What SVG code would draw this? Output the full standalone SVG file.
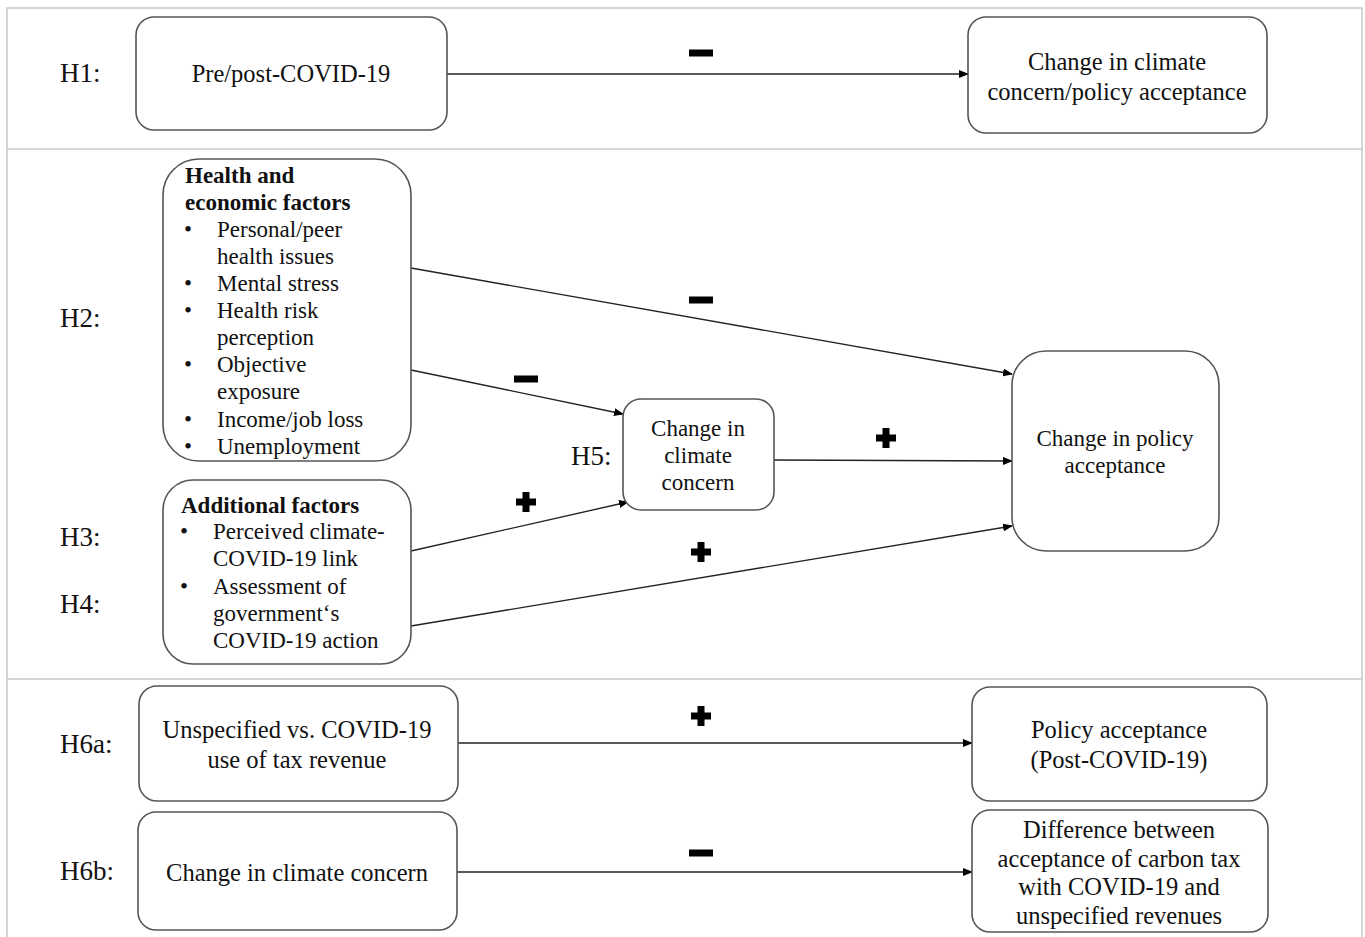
<svg xmlns="http://www.w3.org/2000/svg" width="1365" height="937" viewBox="0 0 1365 937">
<style>
.frame{fill:none;stroke:#c8c8c8;stroke-width:1.5}
.box{fill:#fff;stroke:#555;stroke-width:1.6}
.t{font-family:"Liberation Serif","Times New Roman",serif;font-size:23px;fill:#111}
.L{font-size:24.5px}
.c{text-anchor:middle}
.b{font-weight:bold}
.h{font-family:"Liberation Serif","Times New Roman",serif;font-size:27px;fill:#111}
.arr{fill:none;stroke:#222;stroke-width:1.4;marker-end:url(#ah)}
.sym{fill:#000}
</style>
<defs>
<marker id="ah" markerWidth="10" markerHeight="8" refX="9" refY="4" orient="auto" markerUnits="userSpaceOnUse">
<path d="M0,0 L10,4 L0,8 Z" fill="#000"/>
</marker>
<path id="plus" d="M-3.5,-10 H3.5 V-3.5 H10 V3.5 H3.5 V10 H-3.5 V3.5 H-10 V-3.5 H-3.5 Z"/>
<rect id="minus" x="-12" y="-3.5" width="24" height="7"/>
</defs>
<rect width="1365" height="937" fill="#fff"/>
<g id="frame">
<rect class="frame" x="7" y="8" width="1355" height="935"/>
<line class="frame" x1="7" y1="149" x2="1362" y2="149"/>
<line class="frame" x1="7" y1="679" x2="1362" y2="679"/>
</g>
<g id="labels">
<text class="h" x="60" y="82">H1:</text>
<text class="h" x="60" y="327">H2:</text>
<text class="h" x="60" y="546">H3:</text>
<text class="h" x="60" y="613">H4:</text>
<text class="h" x="571" y="465">H5:</text>
<text class="h" x="60" y="753">H6a:</text>
<text class="h" x="60" y="880">H6b:</text>
</g>
<g id="connectors">
<line class="arr" x1="447" y1="74" x2="968" y2="74"/>
<line class="arr" x1="411" y1="268" x2="1012" y2="374"/>
<line class="arr" x1="411" y1="370" x2="623" y2="414"/>
<line class="arr" x1="411" y1="551" x2="628" y2="502"/>
<line class="arr" x1="411" y1="626" x2="1012" y2="526"/>
<line class="arr" x1="774" y1="460" x2="1012" y2="461"/>
<line class="arr" x1="458" y1="743" x2="972" y2="743"/>
<line class="arr" x1="457" y1="872" x2="972" y2="872"/>
<use href="#minus" class="sym" x="701" y="53"/>
<use href="#minus" class="sym" x="701" y="300"/>
<use href="#minus" class="sym" x="526" y="379"/>
<use href="#plus" class="sym" x="526" y="502"/>
<use href="#plus" class="sym" x="701" y="552"/>
<use href="#plus" class="sym" x="886" y="438"/>
<use href="#plus" class="sym" x="701" y="716"/>
<use href="#minus" class="sym" x="701" y="853"/>
</g>
<g id="n-prepost">
<rect class="box" x="136" y="17" width="311" height="113" rx="18"/>
<text class="t L c" x="291" y="82">Pre/post-COVID-19</text>
</g>
<g id="n-change-h1">
<rect class="box" x="968" y="17" width="299" height="116" rx="18"/>
<text class="t L c" x="1117" y="70">Change in climate</text>
<text class="t L c" x="1117" y="100">concern/policy acceptance</text>
</g>
<g id="n-health">
<rect class="box" x="163" y="159" width="248" height="302" rx="36"/>
<text class="t b" x="185" y="183">Health and</text>
<text class="t b" x="185" y="210">economic factors</text>
<text class="t" x="184" y="237">•</text><text class="t" x="217" y="237">Personal/peer</text>
<text class="t" x="217" y="264">health issues</text>
<text class="t" x="184" y="291">•</text><text class="t" x="217" y="291">Mental stress</text>
<text class="t" x="184" y="318">•</text><text class="t" x="217" y="318">Health risk</text>
<text class="t" x="217" y="345">perception</text>
<text class="t" x="184" y="372">•</text><text class="t" x="217" y="372">Objective</text>
<text class="t" x="217" y="399">exposure</text>
<text class="t" x="184" y="427">•</text><text class="t" x="217" y="427">Income/job loss</text>
<text class="t" x="184" y="454">•</text><text class="t" x="217" y="454">Unemployment</text>
</g>
<g id="n-additional">
<rect class="box" x="163" y="480" width="248" height="184" rx="30"/>
<text class="t b" x="181" y="513">Additional factors</text>
<text class="t" x="180" y="539">•</text><text class="t" x="213" y="539">Perceived climate-</text>
<text class="t" x="213" y="566">COVID-19 link</text>
<text class="t" x="180" y="594">•</text><text class="t" x="213" y="594">Assessment of</text>
<text class="t" x="213" y="621">government‘s</text>
<text class="t" x="213" y="648">COVID-19 action</text>
</g>
<g id="n-climate">
<rect class="box" x="623" y="399" width="151" height="111" rx="18"/>
<text class="t c" x="698" y="436">Change in</text>
<text class="t c" x="698" y="463">climate</text>
<text class="t c" x="698" y="490">concern</text>
</g>
<g id="n-policy">
<rect class="box" x="1012" y="351" width="207" height="200" rx="34"/>
<text class="t c" x="1115" y="446">Change in policy</text>
<text class="t c" x="1115" y="473">acceptance</text>
</g>
<g id="n-unspecified">
<rect class="box" x="139" y="686" width="319" height="115" rx="18"/>
<text class="t L c" x="297" y="738">Unspecified vs. COVID-19</text>
<text class="t L c" x="297" y="768">use of tax revenue</text>
</g>
<g id="n-policy-post">
<rect class="box" x="972" y="687" width="295" height="114" rx="18"/>
<text class="t L c" x="1119" y="738">Policy acceptance</text>
<text class="t L c" x="1119" y="768">(Post-COVID-19)</text>
</g>
<g id="n-change-concern">
<rect class="box" x="138" y="812" width="319" height="118" rx="18"/>
<text class="t L c" x="297" y="881">Change in climate concern</text>
</g>
<g id="n-difference">
<rect class="box" x="972" y="810" width="296" height="122" rx="18"/>
<text class="t L c" x="1119" y="838">Difference between</text>
<text class="t L c" x="1119" y="867">acceptance of carbon tax</text>
<text class="t L c" x="1119" y="895">with COVID-19 and</text>
<text class="t L c" x="1119" y="924">unspecified revenues</text>
</g>
</svg>
